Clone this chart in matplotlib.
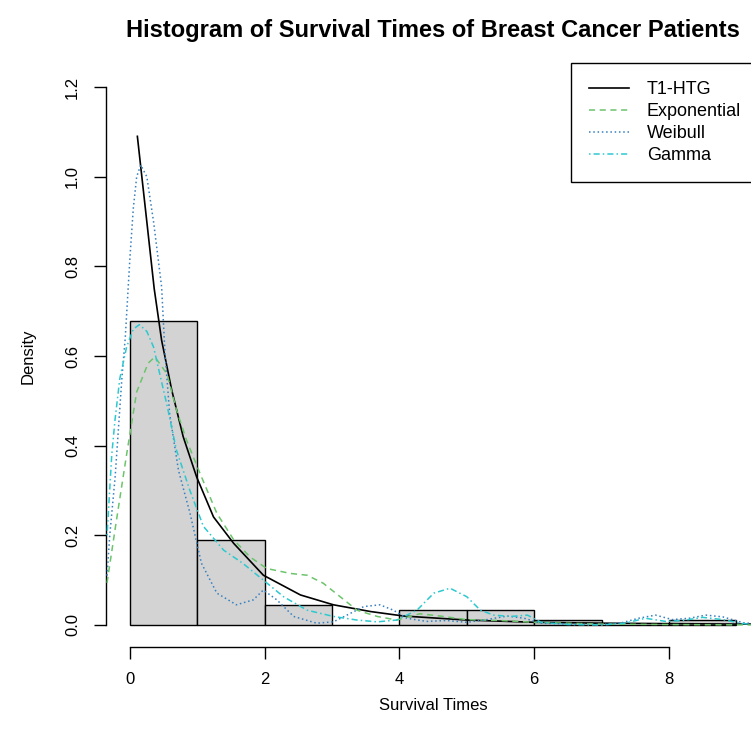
import matplotlib
matplotlib.use("Agg")
import matplotlib.pyplot as plt
import numpy as np

plt.rcParams['font.family'] = ['Liberation Sans', 'DejaVu Sans']

# histogram (density scale), breaks 0..9
bin_edges = [0, 1, 2, 3, 4, 5, 6, 7, 8, 9]
bin_density = [0.678, 0.189, 0.044, 0.0, 0.033, 0.033, 0.011, 0.0, 0.011]

# fitted / estimated density curves
htg_x = [0.11, 0.25, 0.36, 0.47, 0.62, 0.79, 0.99, 1.24, 1.54, 1.98, 2.53, 3.02,
         3.57, 4.06, 5.0, 6.0, 7.0, 8.0, 9.0, 9.4]
htg_y = [1.09, 0.90, 0.75, 0.635, 0.524, 0.42, 0.33, 0.241, 0.182, 0.111, 0.067, 0.045,
         0.030, 0.020, 0.011, 0.006, 0.004, 0.003, 0.002, 0.002]

exp_x = [-0.34, -0.2, -0.05, 0.1, 0.27, 0.37, 0.55, 0.69, 0.84, 1.04, 1.29, 1.54, 1.78,
         2.03, 2.38, 2.63, 2.87, 3.12, 3.37, 3.67, 3.96, 4.3, 4.6, 5.0, 5.5, 6.0, 7.0, 8.0, 9.4]
exp_y = [0.094, 0.234, 0.38, 0.52, 0.584, 0.598, 0.56, 0.48, 0.412, 0.338, 0.249, 0.19, 0.152,
         0.126, 0.115, 0.111, 0.093, 0.063, 0.033, 0.019, 0.011, 0.025, 0.02, 0.012, 0.01, 0.006,
         0.002, 0.001, 0.0]

wei_x = [-0.34, -0.30, -0.22, -0.17, -0.12, -0.07, 0.0, 0.05, 0.10, 0.16, 0.25, 0.35, 0.47,
         0.52, 0.59, 0.72, 0.89, 1.06, 1.29, 1.58, 1.83, 1.98, 2.18, 2.43, 2.77, 3.02, 3.22,
         3.47, 3.71, 3.91, 4.11, 4.4, 4.7, 5.0, 5.3, 5.6, 5.85, 6.1, 6.5, 7.0, 7.3, 7.55, 7.8,
         8.05, 8.3, 8.55, 8.8, 9.1, 9.4]
wei_y = [0.11, 0.20, 0.33, 0.44, 0.55, 0.64, 0.82, 0.93, 1.00, 1.026, 1.00, 0.90, 0.754,
         0.606, 0.47, 0.345, 0.25, 0.138, 0.071, 0.045, 0.056, 0.078, 0.056, 0.019, 0.004, 0.007,
         0.022, 0.041, 0.045, 0.033, 0.015, 0.008, 0.01, 0.006, 0.012, 0.02, 0.015, 0.004, 0.002,
         0.001, 0.005, 0.015, 0.022, 0.012, 0.015, 0.022, 0.018, 0.005, 0.001]

gam_x = [-0.34, -0.27, -0.22, -0.15, -0.05, 0.05, 0.14, 0.25, 0.35, 0.55, 0.69, 0.89, 1.09,
         1.39, 1.68, 1.98, 2.28, 2.63, 3.02, 3.37, 3.67, 3.96, 4.26, 4.51, 4.75, 5.0, 5.2, 5.4,
         5.65, 5.9, 6.1, 6.5, 7.0, 7.35, 7.65, 7.95, 8.2, 8.5, 8.8, 9.1, 9.4]
gam_y = [0.20, 0.38, 0.46, 0.55, 0.62, 0.66, 0.67, 0.655, 0.62, 0.49, 0.39, 0.30, 0.22,
         0.167, 0.137, 0.10, 0.063, 0.033, 0.019, 0.011, 0.007, 0.011, 0.033, 0.071, 0.082, 0.063,
         0.033, 0.022, 0.019, 0.022, 0.006, 0.001, 0.0, 0.004, 0.015, 0.008, 0.010, 0.017, 0.012,
         0.003, 0.0]

x_ticks = [0, 2, 4, 6, 8]
y_ticks = [0.0, 0.2, 0.4, 0.6, 0.8, 1.0, 1.2]

W, H = 751, 745
fig = plt.figure(figsize=(W / 100, H / 100), dpi=100)
# plot region in pixels: left 105.7, right 760.6 (past the edge), top 65.5, bottom 646.5
ax = fig.add_axes([105.7 / W, 1 - 646.5 / H, (760.6 - 105.7) / W, (646.5 - 65.5) / H])
ax.set_xlim(-0.36, 9.36)
ax.set_ylim(-0.048, 1.248)

widths = np.diff(bin_edges)
ax.bar(bin_edges[:-1], bin_density, width=widths, align='edge',
       color='#d3d3d3', edgecolor='black', linewidth=1.0, zorder=1)

ax.plot(htg_x, htg_y, color='black', lw=1.2, ls='-', label='T1-HTG', zorder=3)
ax.plot(exp_x, exp_y, color='#6cc46c', lw=1.1, ls=(0, (4, 3)), label='Exponential', zorder=3)
ax.plot(wei_x, wei_y, color='#3580bf', lw=1.1, ls=(0, (1, 1.8)), label='Weibull', zorder=3)
ax.plot(gam_x, gam_y, color='#2cc9cf', lw=1.1, ls=(0, (1, 2, 4, 2)), label='Gamma', zorder=3)

for s in ['top', 'right']:
    ax.spines[s].set_visible(False)
ax.spines['left'].set_bounds(0, 1.2)
ax.spines['bottom'].set_bounds(0, 8)
ax.spines['left'].set_linewidth(1.0)
ax.spines['bottom'].set_linewidth(1.0)

ax.set_xticks(x_ticks)
ax.set_xticklabels([str(t) for t in x_ticks])
ax.set_yticks(y_ticks)
ax.set_yticklabels(['%.1f' % t for t in y_ticks], rotation=90, va='center')
ax.tick_params(length=8.5, width=1.0, labelsize=12)
ax.tick_params(axis='x', pad=10)
ax.tick_params(axis='y', pad=10)

ax.set_xlabel('Survival Times', fontsize=12)
ax.set_ylabel('Density', fontsize=12)
ax.xaxis.label.set_va('center')
ax.yaxis.label.set_va('center')
ax.xaxis.set_label_coords(0.5, (646.5 - 706) / 581)
ax.yaxis.set_label_coords((28 - 105.7) / 654.9, 0.5)

fig.text(433 / W, 1 - 30 / H, 'Histogram of Survival Times of Breast Cancer Patients',
         ha='center', va='center', fontsize=17, fontweight='bold')

leg = ax.legend(loc='upper left', bbox_to_anchor=(571 / W, 1 - 63 / H),
                bbox_transform=fig.transFigure, fancybox=False, framealpha=1,
                edgecolor='black', fontsize=13, handlelength=2.2, borderpad=1.0,
                labelspacing=0.28, handletextpad=1.0, borderaxespad=0)
leg.get_frame().set_linewidth(1.0)

fig.savefig('out.png', dpi=100)
